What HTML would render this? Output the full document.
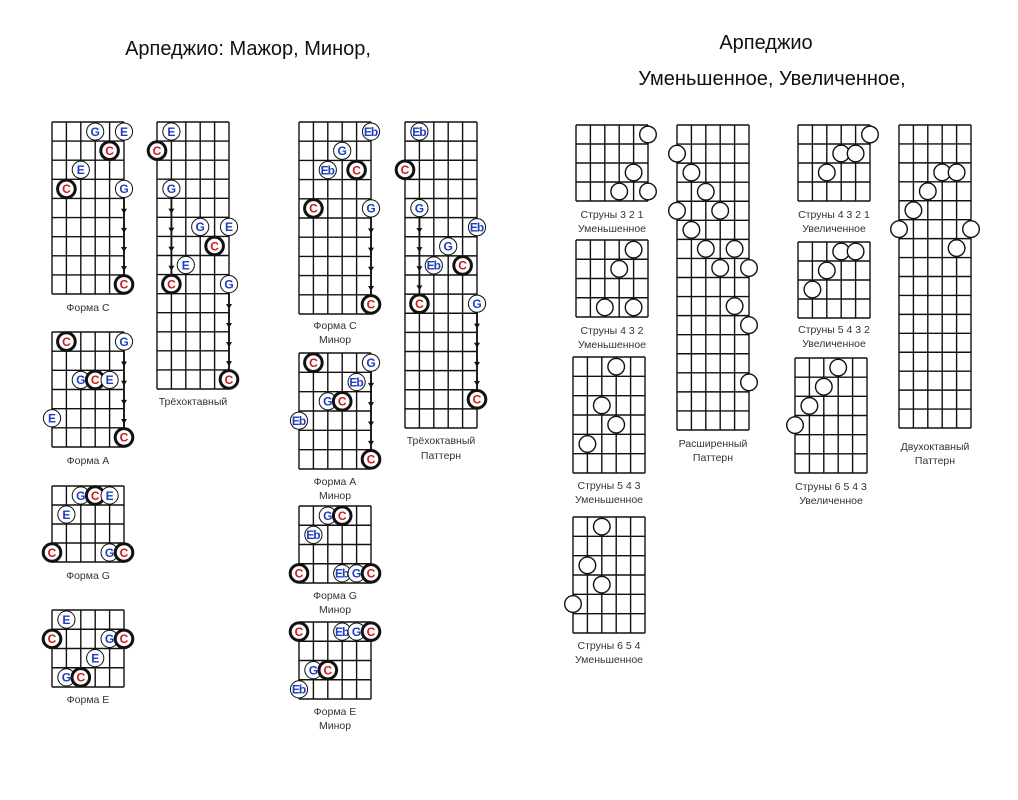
<!DOCTYPE html>
<html><head><meta charset="utf-8">
<style>
html,body{margin:0;padding:0;background:#fff;}
body{width:1018px;height:800px;overflow:hidden;}
svg{display:block;}
.t{font-family:"Liberation Sans","DejaVu Sans",sans-serif;font-size:20px;fill:#111;text-anchor:middle;}
.l{font-family:"Liberation Sans","DejaVu Sans",sans-serif;font-size:10.5px;fill:#333;text-anchor:middle;}
.n{font-family:"Liberation Sans","DejaVu Sans",sans-serif;font-weight:bold;font-size:12px;text-anchor:middle;}
.b{fill:#1e3fc0;}
.c{fill:#d01818;}
</style></head><body>
<svg id="s" width="1018" height="800" xmlns="http://www.w3.org/2000/svg">
<text class="t" x="248" y="55">Арпеджио: Мажор, Минор,</text>
<text class="t" x="766" y="49">Арпеджио</text>
<text class="t" x="772" y="85">Уменьшенное, Увеличенное,</text>

<!-- Major -->
<g class="grid" transform="translate(52,122)" rows="9" hh="172" ar="5,4,7">
<text class="n b" c="3" r="0">G</text><text class="n b" c="5" r="0">E</text><text class="n c" c="4" r="1">C</text><text class="n b" c="2" r="2">E</text><text class="n c" c="1" r="3">C</text><text class="n b" c="5" r="3">G</text><text class="n c" c="5" r="8">C</text>
</g>
<text class="l" x="88" y="311">Форма C</text>

<g class="grid" transform="translate(157,122)" rows="14" hh="267" ar="1,4,7;5,9,12">
<text class="n b" c="1" r="0">E</text><text class="n c" c="0" r="1">C</text><text class="n b" c="1" r="3">G</text><text class="n b" c="3" r="5">G</text><text class="n b" c="5" r="5">E</text><text class="n c" c="4" r="6">C</text><text class="n b" c="2" r="7">E</text><text class="n c" c="1" r="8">C</text><text class="n b" c="5" r="8">G</text><text class="n c" c="5" r="13">C</text>
</g>
<text class="l" x="193" y="405">Трёхоктавный</text>

<g class="grid" transform="translate(52,332)" rows="6" hh="115" ar="5,1,4">
<text class="n c" c="1" r="0">C</text><text class="n b" c="5" r="0">G</text><text class="n b" c="2" r="2">G</text><text class="n c" c="3" r="2">C</text><text class="n b" c="4" r="2">E</text><text class="n b" c="0" r="4">E</text><text class="n c" c="5" r="5">C</text>
</g>
<text class="l" x="88" y="464">Форма A</text>

<g class="grid" transform="translate(52,486)" rows="4" hh="76">
<text class="n b" c="2" r="0">G</text><text class="n c" c="3" r="0">C</text><text class="n b" c="4" r="0">E</text><text class="n b" c="1" r="1">E</text><text class="n c" c="0" r="3">C</text><text class="n b" c="4" r="3">G</text><text class="n c" c="5" r="3">C</text>
</g>
<text class="l" x="88" y="579">Форма G</text>

<g class="grid" transform="translate(52,610)" rows="4" hh="77">
<text class="n b" c="1" r="0">E</text><text class="n c" c="0" r="1">C</text><text class="n b" c="4" r="1">G</text><text class="n c" c="5" r="1">C</text><text class="n b" c="3" r="2">E</text><text class="n b" c="1" r="3">G</text><text class="n c" c="2" r="3">C</text>
</g>
<text class="l" x="88" y="703">Форма E</text>

<!-- Minor -->
<g class="grid" transform="translate(299,122)" rows="10" hh="192" ar="5,5,8">
<text class="n b" c="5" r="0">Eb</text><text class="n b" c="3" r="1">G</text><text class="n b" c="2" r="2">Eb</text><text class="n c" c="4" r="2">C</text><text class="n c" c="1" r="4">C</text><text class="n b" c="5" r="4">G</text><text class="n c" c="5" r="9">C</text>
</g>
<text class="l" x="335" y="329">Форма C</text>
<text class="l" x="335" y="343">Минор</text>

<g class="grid" transform="translate(405,122)" rows="16" hh="306" ar="1,5,8;5,10,13">
<text class="n b" c="1" r="0">Eb</text><text class="n c" c="0" r="2">C</text><text class="n b" c="1" r="4">G</text><text class="n b" c="5" r="5">Eb</text><text class="n b" c="3" r="6">G</text><text class="n b" c="2" r="7">Eb</text><text class="n c" c="4" r="7">C</text><text class="n c" c="1" r="9">C</text><text class="n b" c="5" r="9">G</text><text class="n c" c="5" r="14">C</text>
</g>
<text class="l" x="441" y="444">Трёхоктавный</text>
<text class="l" x="441" y="459">Паттерн</text>

<g class="grid" transform="translate(299,353)" rows="6" hh="116" ar="5,1,4">
<text class="n c" c="1" r="0">C</text><text class="n b" c="5" r="0">G</text><text class="n b" c="4" r="1">Eb</text><text class="n b" c="2" r="2">G</text><text class="n c" c="3" r="2">C</text><text class="n b" c="0" r="3">Eb</text><text class="n c" c="5" r="5">C</text>
</g>
<text class="l" x="335" y="485">Форма A</text>
<text class="l" x="335" y="499">Минор</text>

<g class="grid" transform="translate(299,506)" rows="4" hh="77">
<text class="n b" c="2" r="0">G</text><text class="n c" c="3" r="0">C</text><text class="n b" c="1" r="1">Eb</text><text class="n c" c="0" r="3">C</text><text class="n b" c="3" r="3">Eb</text><text class="n b" c="4" r="3">G</text><text class="n c" c="5" r="3">C</text>
</g>
<text class="l" x="335" y="599">Форма G</text>
<text class="l" x="335" y="613">Минор</text>

<g class="grid" transform="translate(299,622)" rows="4" hh="77">
<text class="n c" c="0" r="0">C</text><text class="n b" c="3" r="0">Eb</text><text class="n b" c="4" r="0">G</text><text class="n c" c="5" r="0">C</text><text class="n b" c="1" r="2">G</text><text class="n c" c="2" r="2">C</text><text class="n b" c="0" r="3">Eb</text>
</g>
<text class="l" x="335" y="715">Форма E</text>
<text class="l" x="335" y="729">Минор</text>

<!-- Diminished / Augmented -->
<g class="grid" transform="translate(576,125)" rows="4" hh="76" o="5,0;4,2;3,3;5,3"></g>
<text class="l" x="612" y="218">Струны 3 2 1</text>
<text class="l" x="612" y="232">Уменьшенное</text>

<g class="grid" transform="translate(576,240)" rows="4" hh="77" o="4,0;3,1;2,3;4,3"></g>
<text class="l" x="612" y="334">Струны 4 3 2</text>
<text class="l" x="612" y="348">Уменьшенное</text>

<g class="grid" transform="translate(573,357)" rows="6" hh="116" o="3,0;2,2;3,3;1,4"></g>
<text class="l" x="609" y="489">Струны 5 4 3</text>
<text class="l" x="609" y="503">Уменьшенное</text>

<g class="grid" transform="translate(573,517)" rows="6" hh="116" o="2,0;1,2;2,3;0,4"></g>
<text class="l" x="609" y="649">Струны 6 5 4</text>
<text class="l" x="609" y="663">Уменьшенное</text>

<g class="grid" transform="translate(677,125)" rows="16" hh="305" o="0,1;1,2;2,3;0,4;3,4;1,5;2,6;4,6;3,7;5,7;4,9;5,10;5,13"></g>
<text class="l" x="713" y="447">Расширенный</text>
<text class="l" x="713" y="461">Паттерн</text>

<g class="grid" transform="translate(798,125)" rows="4" hh="76" o="5,0;3,1;4,1;2,2"></g>
<text class="l" x="834" y="218">Струны 4 3 2 1</text>
<text class="l" x="834" y="232">Увеличенное</text>

<g class="grid" transform="translate(798,242)" rows="4" hh="76" o="3,0;4,0;2,1;1,2"></g>
<text class="l" x="834" y="333">Струны 5 4 3 2</text>
<text class="l" x="834" y="347">Увеличенное</text>

<g class="grid" transform="translate(795,358)" rows="6" hh="115" o="3,0;2,1;1,2;0,3"></g>
<text class="l" x="831" y="490">Струны 6 5 4 3</text>
<text class="l" x="831" y="504">Увеличенное</text>

<g class="grid" transform="translate(899,125)" rows="16" hh="303" o="3,2;4,2;2,3;1,4;0,5;5,5;4,6"></g>
<text class="l" x="935" y="450">Двухоктавный</text>
<text class="l" x="935" y="464">Паттерн</text>
</svg>
<script>
(function(){
var NS="http://www.w3.org/2000/svg";
function el(t,a){var e=document.createElementNS(NS,t);for(var k in a)e.setAttribute(k,a[k]);return e;}
var gs=document.querySelectorAll("g.grid");
for(var i=0;i<gs.length;i++){
 var g=gs[i],rows=+g.getAttribute("rows"),H=+g.getAttribute("hh"),h=H/rows,W=72,cw=W/5;
 var texts=Array.prototype.slice.call(g.querySelectorAll("text"));
 var first=g.firstChild;
 var lines=el("g",{stroke:"#111","stroke-width":"1.4",fill:"none"});
 for(var c=0;c<6;c++)lines.appendChild(el("line",{x1:c*cw,y1:0,x2:c*cw,y2:H}));
 for(var r=0;r<=rows;r++)lines.appendChild(el("line",{x1:0,y1:r*h,x2:W,y2:r*h}));
 g.insertBefore(lines,first);
 var ar=g.getAttribute("ar");
 if(ar){ar.split(";").forEach(function(s){var p=s.split(",").map(Number);var x=p[0]*cw;
   var al=el("line",{x1:x,y1:(p[1])*h-2,x2:x,y2:(p[2]+1)*h+2,stroke:"#111","stroke-width":"1.8"});g.insertBefore(al,first);
   for(var r=p[1];r<=p[2];r++){var y=(r+0.75)*h;
     g.insertBefore(el("path",{d:"M"+(x-3)+","+(y-4)+" L"+(x+3)+","+(y-4)+" L"+x+","+(y+1)+"Z",fill:"#111"}),first);}
 });}
 texts.forEach(function(t){
   var c=+t.getAttribute("c"),r=+t.getAttribute("r"),x=c*cw,y=(r+0.5)*h;
   var red=t.getAttribute("class").indexOf(" c")>=0;
   var circ=el("circle",{cx:x,cy:y,r:red?8.8:8.6,fill:"#fff",stroke:"#111","stroke-width":red?"3":"1"});
   g.insertBefore(circ,t);
   t.setAttribute("x",x);t.setAttribute("y",y+4.3);
   if(t.textContent=="Eb"){t.setAttribute("font-size","10.5");t.setAttribute("letter-spacing","-1");t.setAttribute("x",x-0.5);}
 });
 var o=g.getAttribute("o");
 if(o){o.split(";").forEach(function(s){var p=s.split(",").map(Number);
   g.appendChild(el("circle",{cx:p[0]*cw,cy:(p[1]+0.5)*h,r:8.3,fill:"#fff",stroke:"#111","stroke-width":"1.4"}));});}
}
})();
</script>
</body></html>
